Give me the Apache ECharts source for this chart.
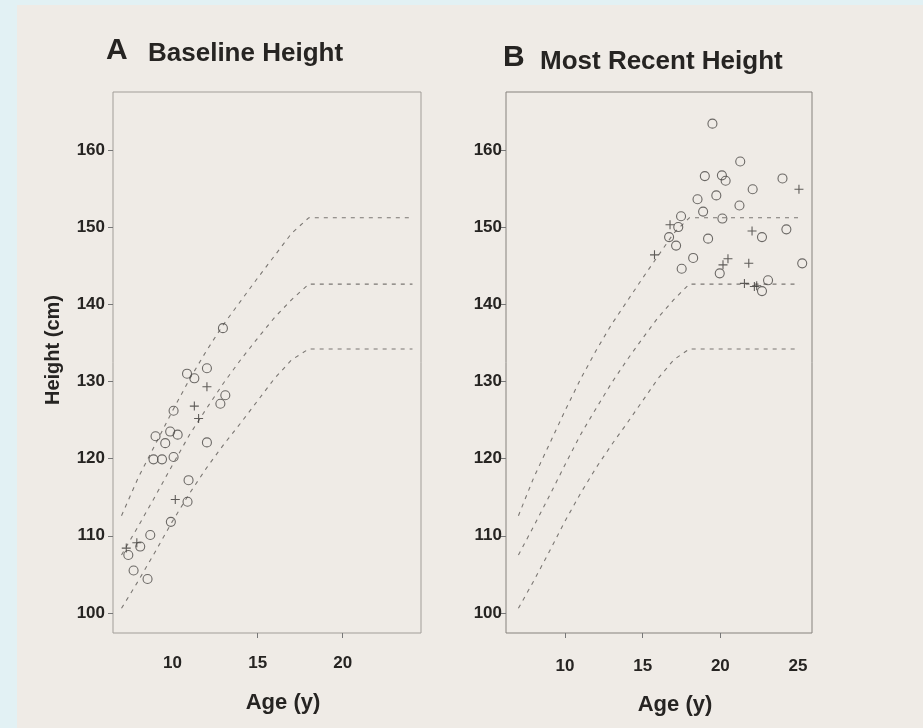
<!DOCTYPE html>
<html>
<head>
<meta charset="utf-8">
<script src="https://cdn.jsdelivr.net/npm/echarts@6/dist/echarts.min.js"></script>
<style>
  html, body { margin: 0; padding: 0; background: #e2f1f4; }
  /* scanned paper sheet, the cyan strip stays visible on the left/top */
  #paper { position: absolute; left: 17px; top: 5px; right: 0; bottom: 0; background: #efebe6; }
  #chart { position: absolute; left: 0; top: 0; width: 923px; height: 728px; }
</style>
</head>
<body>
<div id="paper"></div>
<div id="chart"></div>
<script>
// Reference growth curves (shared by both panels), ages in years, heights in cm
const curveAges = [7, 8, 9, 10, 11, 12, 13, 14, 15, 16, 17, 18];
const p95 = [112.6, 117.6, 121.9, 126.2, 130.3, 134.0, 137.4, 140.4, 143.4, 146.3, 149.2, 151.2];
const p50 = [107.5, 111.3, 115.2, 119.2, 123.1, 126.5, 129.8, 132.8, 135.6, 138.3, 140.6, 142.6];
const p5 = [100.6, 104.2, 108.0, 111.9, 115.5, 118.8, 121.8, 124.6, 127.5, 130.4, 132.8, 134.2];
// where the flat part of the curves stops in each panel
const curveEndA = 24.1;
const curveEndB = 25.1;

// A - baseline height: [age, height]
const circlesA = [
  [12.96, 136.9], [10.85, 131.0], [11.28, 130.4], [12.02, 131.7], [13.1, 128.2], [12.81, 127.1],
  [10.06, 126.2], [9.0, 122.9], [9.86, 123.5], [10.3, 123.1], [9.57, 122.0], [12.02, 122.1],
  [8.88, 119.9], [9.38, 119.9], [10.06, 120.2], [10.94, 117.2], [10.88, 114.4], [9.9, 111.8],
  [8.69, 110.1], [8.1, 108.6], [7.4, 107.5], [7.71, 105.5], [8.53, 104.4]
];
const plusesA = [
  [12.02, 129.3], [11.28, 126.8], [11.53, 125.2], [10.16, 114.7], [7.28, 108.4], [7.9, 109.1]
];

// B - most recent height
const circlesB = [
  [19.49, 163.4], [21.28, 158.5], [19.0, 156.6], [20.1, 156.7], [20.34, 156.0], [24.0, 156.3],
  [22.08, 154.9], [19.74, 154.1], [18.53, 153.6], [21.23, 152.8], [18.89, 152.0], [17.47, 151.4],
  [20.13, 151.1], [17.29, 150.0], [24.25, 149.7], [22.68, 148.7], [16.7, 148.7], [19.21, 148.5],
  [17.15, 147.6], [18.25, 146.0], [25.27, 145.3], [17.51, 144.6], [19.96, 144.0], [23.07, 143.1],
  [22.68, 141.7]
];
const plusesB = [
  [25.06, 154.9], [22.04, 149.5], [16.76, 150.3], [15.76, 146.4], [20.49, 145.9], [21.83, 145.3],
  [20.17, 145.1], [21.55, 142.7], [22.19, 142.3], [22.34, 142.4]
];

// Axis labels / ticks
const yTicks = [100, 110, 120, 130, 140, 150, 160];
const xLabelsA = [10, 15, 20];
const xTicksA = [15, 20];
const xLabelsB = [10, 15, 20, 25];
const xTicksB = [10, 15, 20];

const font = "'Liberation Sans', Arial, Helvetica, sans-serif";
const ink = '#262422';
const plusPath = 'path://M4.4,0h1.2v4.4h4.4v1.2h-4.4v4.4h-1.2v-4.4h-4.4v-1.2h4.4z';

// curve with its flat tail up to the given age
const makeCurve = (vals, endAge) => {
  const pts = curveAges.map((a, i) => [a, vals[i]]);
  pts.push([endAge, vals[vals.length - 1]]);
  return pts;
};

const curveSeries = (idx, endAge) => [p95, p50, p5].map((vals) => ({
  type: 'line',
  xAxisIndex: idx,
  yAxisIndex: idx,
  data: makeCurve(vals, endAge),
  showSymbol: false,
  silent: true,
  lineStyle: { color: '#7b7773', width: 1.1, type: [4, 5] },
  z: 1
}));

const pointSeries = (idx, circles, pluses) => [
  {
    type: 'scatter',
    xAxisIndex: idx,
    yAxisIndex: idx,
    data: circles,
    symbol: 'circle',
    symbolSize: 9,
    itemStyle: { color: 'rgba(0,0,0,0)', borderColor: '#4a4745', borderWidth: 1.1 },
    z: 3
  },
  {
    type: 'scatter',
    xAxisIndex: idx,
    yAxisIndex: idx,
    data: pluses,
    symbol: plusPath,
    symbolSize: 9,
    itemStyle: { color: '#3a3735' },
    z: 4
  }
];

const xAxisCfg = (idx, min, max, labels, ticks, margin) => ({
  type: 'value',
  gridIndex: idx,
  min: min,
  max: max,
  axisLine: { show: false },
  splitLine: { show: false },
  axisTick: { show: true, length: 5, customValues: ticks, lineStyle: { color: '#777' } },
  axisLabel: {
    customValues: labels, margin: margin,
    fontFamily: font, fontSize: 17, fontWeight: 'bold', color: ink
  }
});

const yAxisCfg = (idx, margin) => ({
  type: 'value',
  gridIndex: idx,
  min: 97.4,
  max: 167.5,
  axisLine: { show: false },
  splitLine: { show: false },
  axisTick: { show: true, length: 5, customValues: yTicks, lineStyle: { color: '#777' } },
  axisLabel: {
    customValues: yTicks, margin: margin,
    fontFamily: font, fontSize: 17, fontWeight: 'bold', color: ink
  }
});

const txt = (text, x, y, size, align, extra) => Object.assign({
  type: 'text',
  x: x,
  y: y,
  silent: true,
  style: {
    text: text, fill: ink, font: 'bold ' + size + 'px ' + font,
    align: align, verticalAlign: 'middle'
  }
}, extra || {});

const chart = echarts.init(document.getElementById('chart'));

const option = {
  backgroundColor: 'transparent',
  animation: false,
  grid: [
    { left: 113, top: 92, width: 308, height: 541, show: true, borderColor: '#a19d98', borderWidth: 1, backgroundColor: 'transparent' },
    { left: 506, top: 92, width: 306, height: 541, show: true, borderColor: '#85817c', borderWidth: 1, backgroundColor: 'transparent' }
  ],
  xAxis: [
    xAxisCfg(0, 6.5, 24.6, xLabelsA, xTicksA, 22),
    xAxisCfg(1, 6.2, 25.9, xLabelsB, xTicksB, 25)
  ],
  yAxis: [
    yAxisCfg(0, 8),
    yAxisCfg(1, 4)
  ],
  graphic: [
    txt('A', 106, 51, 30, 'left'),
    txt('Baseline Height', 148, 54, 26, 'left'),
    txt('B', 503, 58, 30, 'left'),
    txt('Most Recent Height', 540, 62, 26, 'left'),
    txt('Height (cm)', 53, 350, 20, 'center', { rotation: Math.PI / 2 }),
    txt('Age (y)', 283, 703, 22, 'center'),
    txt('Age (y)', 675, 705, 22, 'center')
  ],
  series: [
    ...curveSeries(0, curveEndA),
    ...curveSeries(1, curveEndB),
    ...pointSeries(0, circlesA, plusesA),
    ...pointSeries(1, circlesB, plusesB)
  ]
};

chart.setOption(option);
</script>
</body>
</html>
